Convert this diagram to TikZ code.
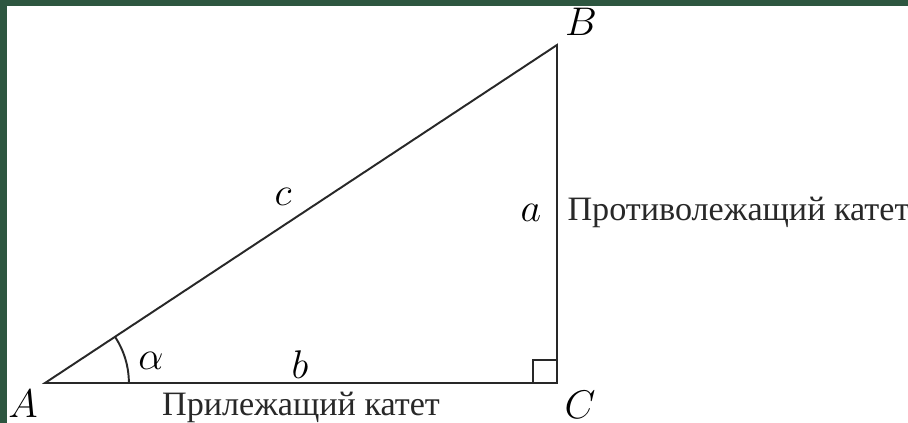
\documentclass[tikz,border=0pt]{standalone}
\usepackage{fontspec}
\newfontfamily\cyr{Liberation Serif}
\usetikzlibrary{angles}
\definecolor{frame}{RGB}{45,86,64}
\definecolor{ink}{RGB}{40,40,40}
\tikzset{
  side/.style={draw=ink, line width=0.7pt},
  vlabel/.style={inner sep=0pt, font=\Large},
  cyrlabel/.style={inner sep=0pt, font=\cyr\fontsize{12.3}{14}\selectfont, text=ink}
}
\begin{document}
\begin{tikzpicture}[x=0.36pt,y=-0.36pt]
\useasboundingbox (0,0) rectangle (908,423);
\fill[white] (0,0) rectangle (908,423);
\fill[frame] (0,0) rectangle (908,6);
\fill[frame] (0,0) rectangle (7,423);
\coordinate (A) at (45,383);
\coordinate (B) at (557,45);
\coordinate (C) at (557,383);
\draw[side] (A) -- (B) -- (C) -- cycle;
\draw[side] (533,383) |- (557,360);
\pic[draw=ink, line width=0.7pt, angle radius=30.2pt] {angle = C--A--B};
\node[vlabel] (lA) at (23,404) {$A$};
\node[vlabel] (lB) at (581,22) {$B$};
\node[vlabel] (lC) at (580,405) {$C$};
\node[vlabel] (lal) at (151,361) {$\alpha$};
\node[vlabel] (lb) at (300,365) {$b$};
\node[vlabel] (lc) at (283,197) {$c$};
\node[vlabel] (la) at (531,213) {$a$};
\node[cyrlabel, anchor=west] (opp) at (567,212) {Противолежащий катет};
\node[cyrlabel] (adj) at (301,407) {Прилежащий катет};
\end{tikzpicture}
\end{document}
